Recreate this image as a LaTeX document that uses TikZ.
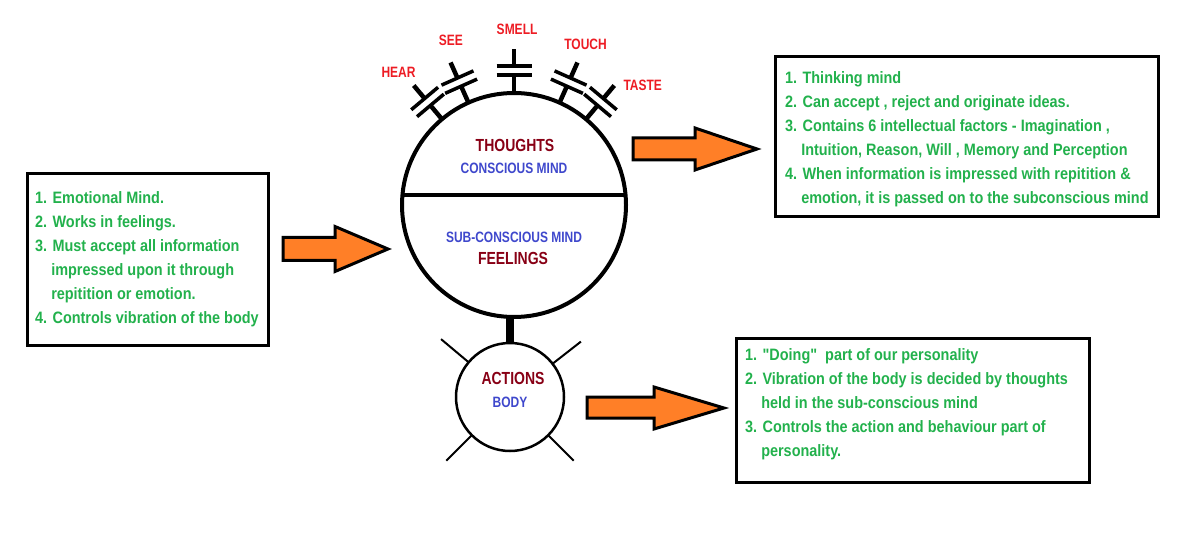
\documentclass[tikz,border=0pt]{standalone}
\usepackage{fontspec}
\setmainfont{Liberation Sans}[FakeStretch=0.875, Ligatures=TeXOff]
\newfontfamily\capsfont{Liberation Sans}[FakeStretch=0.8]
\usepackage{tikz}
\usetikzlibrary{calc,positioning}

\definecolor{sensered}{RGB}{237,28,36}
\definecolor{darkred}{RGB}{136,0,21}
\definecolor{indigo}{RGB}{63,72,204}
\definecolor{leafgreen}{RGB}{34,177,76}
\definecolor{paintorange}{RGB}{255,127,39}

\begin{document}
\begin{tikzpicture}[
    x=1pt, y=1pt,
    listbox/.style={rectangle, draw, line width=3pt, inner sep=0pt},
    listtext/.style={anchor=north west, inner sep=0pt, align=left, text=leafgreen, font=\bfseries\fontsize{16.5}{24}\selectfont},
    bigword/.style={inner sep=0pt, text=darkred, font=\capsfont\bfseries\fontsize{17.5}{20}\selectfont},
    smallword/.style={inner sep=0pt, text=indigo, font=\capsfont\bfseries\fontsize{15}{17}\selectfont},
    sense/.style={inner sep=0pt, text=sensered, font=\capsfont\bfseries\fontsize{15}{17}\selectfont},
    stem/.style={line width=4.5pt},
    plate/.style={line width=3.5pt},
    ray/.style={line width=2pt},
    fatarrow/.style={draw, line width=3pt, fill=paintorange, line join=miter}
]
    \useasboundingbox (0,0) rectangle (1190,544);

    % mind and body
    \node[circle, draw, line width=4pt, outer sep=0pt, minimum size=224pt] (mind) at (514,339) {};
    \node[circle, draw, line width=2.5pt, outer sep=0pt, minimum size=108pt] (body) at (510,147) {};
    \draw[line width=4pt] (mind.175) -- (mind.5);
    \draw[line width=8pt] (body.north) -- (body.north |- mind.south);
    \foreach \a in {38,140,225,315}
        \draw[ray] (body.\a) -- ++(\a:36pt);

    % senses
    \foreach \a/\s/\la in {130/HEAR/131, 114/SEE/111, 90/SMELL/89, 66/TOUCH/66, 50/TASTE/43}{
        \draw[stem] (mind.\a) -- ($(mind.center)+(\a:130pt)$);
        \draw[stem] ($(mind.center)+(\a:139pt)$) -- ($(mind.center)+(\a:156pt)$);
        \draw[plate] ($(mind.center)+(\a:130pt)+(\a+90:17.5pt)$) -- ($(mind.center)+(\a:130pt)+(\a-90:17.5pt)$);
        \draw[plate] ($(mind.center)+(\a:139pt)+(\a+90:17.5pt)$) -- ($(mind.center)+(\a:139pt)+(\a-90:17.5pt)$);
        \node[sense] (\s) at ($(mind.center)+(\la:176pt)$) {\s};
    }

    \node[bigword] (thoughts) at (515,399) {THOUGHTS};
    \node[smallword] (conscious) at (514,376) {CONSCIOUS MIND};
    \node[smallword] (subconscious) at (514,307) {SUB-CONSCIOUS MIND};
    \node[bigword] (feelings) at (513,286) {FEELINGS};
    \node[bigword] (actions) at (513,166) {ACTIONS};
    \node[smallword] (bodyword) at (510,142) {BODY};

    % lists
    \node[listbox, minimum width=241pt, minimum height=171pt] (subbox) at (147.5,284.5) {};
    \node[listtext] (subtext) at (35,353) {1. Emotional Mind.\\2. Works in feelings.\\3. Must accept all information\\\hphantom{3.\ }impressed upon it through\\\hphantom{3.\ }repitition or emotion.\\4. Controls vibration of the body};

    \node[listbox, minimum width=383pt, minimum height=160pt] (conbox) at (966.5,407) {};
    \node[listtext] (context) at (785,473) {1. Thinking mind\\2. Can accept , reject and originate ideas.\\3. Contains 6 intellectual factors - Imagination ,\\\hphantom{3.\ }Intuition, Reason, Will , Memory and Perception\\4. When information is impressed with repitition \&\\\hphantom{4.\ }emotion, it is passed on to the subconscious mind};

    \node[listbox, minimum width=353pt, minimum height=144pt] (actbox) at (912.5,134) {};
    \node[listtext] (acttext) at (745,196) {1. "Doing"~ part of our personality\\2. Vibration of the body is decided by thoughts\\\hphantom{2.\ }held in the sub-conscious mind\\3. Controls the action and behaviour part of\\\hphantom{3.\ }personality.};

    % arrows
    \draw[fatarrow] (283,283.5) -- (335,283.5) -- (335,272.5) -- (388,295) -- (335,317.5) -- (335,306.5) -- (283,306.5) -- cycle;
    \draw[fatarrow] (633,384) -- (695,384) -- (695,374) -- (757,395) -- (695,416) -- (695,406) -- (633,406) -- cycle;
    \draw[fatarrow] (587,126) -- (654,126) -- (654,115) -- (724,136) -- (654,157) -- (654,147) -- (587,147) -- cycle;
\end{tikzpicture}
\end{document}
